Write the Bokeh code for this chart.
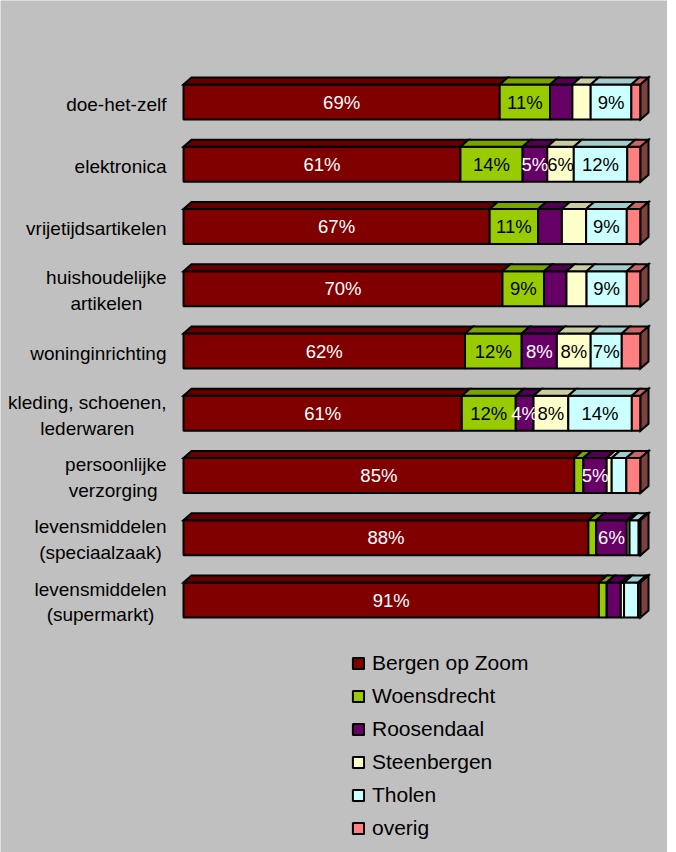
from bokeh.plotting import figure
from bokeh.models import Range1d, ColumnDataSource, Legend, LegendItem
from bokeh.core.properties import value
from bokeh.embed import file_html
from bokeh.resources import INLINE

# ---------------- data ----------------
categories = [
    "doe-het-zelf",
    "elektronica",
    "vrijetijdsartikelen",
    "huishoudelijke\nartikelen",
    "woninginrichting",
    "kleding, schoenen,\nlederwaren",
    "persoonlijke\nverzorging ",
    "levensmiddelen\n(speciaalzaak)",
    "levensmiddelen\n(supermarkt)",
]
series_names = ["Bergen op Zoom", "Woensdrecht", "Roosendaal", "Steenbergen", "Tholen", "overig"]

bergen_op_zoom = [69.2, 60.6, 67.0, 69.8, 61.6, 60.9, 85.5, 88.6, 90.9]
woensdrecht = [11.0, 13.6, 10.6, 9.1, 12.4, 11.8, 2.0, 1.7, 1.7]
roosendaal = [4.9, 5.4, 5.2, 4.9, 7.7, 3.9, 5.1, 6.7, 3.1]
steenbergen = [4.0, 5.8, 5.3, 4.4, 7.4, 7.6, 1.1, 0.6, 0.7]
tholen = [8.9, 11.7, 8.9, 8.8, 6.8, 13.9, 3.2, 2.0, 3.1]
overig = [2.0, 2.9, 3.0, 3.0, 4.1, 1.9, 3.1, 0.4, 0.5]

labels_bergen_op_zoom = ["69%", "61%", "67%", "70%", "62%", "61%", "85%", "88%", "91%"]
labels_woensdrecht = ["11%", "14%", "11%", "9%", "12%", "12%", "", "", ""]
labels_roosendaal = ["", "5%", "", "", "8%", "4%", "5%", "6%", ""]
labels_steenbergen = ["", "6%", "", "", "8%", "8%", "", "", ""]
labels_tholen = ["9%", "12%", "9%", "9%", "7%", "14%", "", "", ""]
labels_overig = ["", "", "", "", "", "", "", "", ""]

series_values = [bergen_op_zoom, woensdrecht, roosendaal, steenbergen, tholen, overig]
series_labels = [labels_bergen_op_zoom, labels_woensdrecht, labels_roosendaal,
                 labels_steenbergen, labels_tholen, labels_overig]

# ---------------- styles ----------------
front_colors = ["#800000", "#99CC00", "#660066", "#FFFFCC", "#CCFFFF", "#FF8080"]
top_colors = ["#660000", "#7AA300", "#520052", "#CCCCA3", "#A3CCCC", "#CC6666"]
side_color = "#804040"
label_colors = ["white", "black", "white", "black", "black", "black"]
BG = "#C0C0C0"
FONT = "Liberation Sans"

W, H = 667, 852
PX_PER_PCT = 4.57          # horizontal scale: pixels per percent
ZERO_X = 183               # canvas x of 0 %
PITCH = 62.25              # pixels per category
FIRST_Y = 101.5            # canvas y of first category centre

x_start = -ZERO_X / PX_PER_PCT
x_end = (W - ZERO_X) / PX_PER_PCT
y_end = -FIRST_Y / PITCH
y_start = (H - FIRST_Y) / PITCH

HALF = 17.5 / PITCH        # half height of the front face
DX = 8 / PX_PER_PCT        # depth offset in x (data units)
DY = 7 / PITCH             # depth offset in y (data units)

p = figure(width=W, height=H, output_backend="svg", toolbar_location=None,
           x_range=Range1d(x_start, x_end), y_range=Range1d(y_start, y_end),
           x_axis_location=None, y_axis_location=None,
           background_fill_color=BG, border_fill_color=BG,
           outline_line_color=None, min_border=0)
p.grid.visible = False

n = len(categories)
ys = list(range(n))
cum = [0.0] * n
legend_items = []
text_x, text_y, text_t, text_c = [], [], [], []

for si, (vals, labs) in enumerate(zip(series_values, series_labels)):
    left = cum[:]
    right = [a + b for a, b in zip(cum, vals)]
    cum = right
    top = [y - HALF for y in ys]
    bottom = [y + HALF for y in ys]
    src = ColumnDataSource(dict(left=left, right=right, top=top, bottom=bottom))
    r = p.quad(left="left", right="right", top="top", bottom="bottom", source=src,
               fill_color=front_colors[si], line_color="black", line_width=2)
    legend_items.append(LegendItem(label=series_names[si], renderers=[r]))
    xs_top = [[l, rr, rr + DX, l + DX] for l, rr in zip(left, right)]
    ys_top = [[t, t, t - DY, t - DY] for t in top]
    p.patches(xs_top, ys_top, fill_color=top_colors[si], line_color="black", line_width=2,
              line_join="miter")
    for i in range(n):
        if labs[i]:
            text_x.append((left[i] + right[i]) / 2)
            text_y.append(ys[i])
            text_t.append(labs[i])
            text_c.append(label_colors[si])

# right side face of each bar
xs_side = [[c, c + DX, c + DX, c] for c in cum]
ys_side = [[y - HALF, y - HALF - DY, y + HALF - DY, y + HALF] for y in ys]
p.patches(xs_side, ys_side, fill_color=side_color, line_color="black", line_width=2,
          line_join="miter")

# value labels
p.text(x=text_x, y=text_y, text=text_t, text_color=text_c,
       text_font=value(FONT), text_font_size="18.5px",
       text_align="center", text_baseline="middle")

# category labels
p.text(x=[0] * n, y=ys, text=categories, x_offset=-17, y_offset=2,
       anchor=value("center_right"), text_align="center", text_baseline="middle",
       text_font=value(FONT), text_font_size="19px", text_color="black",
       text_line_height=1.22)

legend = Legend(items=legend_items, location=(351, 12), orientation="vertical",
                background_fill_alpha=0, border_line_color=None,
                glyph_width=14, glyph_height=14, label_standoff=7,
                label_text_font=FONT, label_text_font_size="21px",
                label_text_color="black",
                label_height=20, spacing=9, padding=0, margin=0)
p.add_layout(legend)

open("out.html", "w").write(file_html(p, INLINE))
